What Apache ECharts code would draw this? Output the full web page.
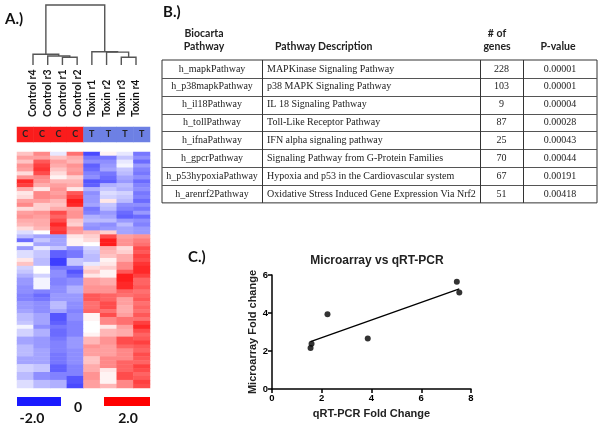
<!DOCTYPE html>
<html>
<head>
<meta charset="utf-8">
<script src="https://cdn.jsdelivr.net/npm/echarts@6/dist/echarts.min.js"></script>
<style>
html,body{margin:0;padding:0;background:#fff}
#main{width:600px;height:424px}
</style>
</head>
<body>
<div id="main"></div>
<script>
// ---- data ----
var samples = ['Control r4', 'Control r3', 'Control r1', 'Control r2', 'Toxin r1', 'Toxin r2', 'Toxin r3', 'Toxin r4'];
var groupTags = ['C', 'C', 'C', 'C', 'T', 'T', 'T', 'T'];
var groupIdx = [0, 0, 0, 0, 1, 1, 1, 1];
// hierarchical clustering merges: [child a, child b, height]; leaves 0-7, new nodes from 8
var merges = [[2, 3, 1.3], [1, 8, 1.5], [0, 9, 1.8], [6, 7, 1.3], [5, 11, 2.15], [4, 12, 2.2], [10, 13, 10]];

// log ratio per gene (rows) and sample (columns)
var expr = [
    [0.5, 1.0, -0.2, 1.2, -1.6, 0.1, -0.2, -1.2],
    [0.8, 0.8, 0.5, 0.7, -1.2, -1.2, -0.5, -1.0],
    [0.5, 1.4, 0.8, 0.6, -1.0, -1.0, -0.2, -1.3],
    [0.9, 1.6, 0.7, 0.9, -1.4, -0.9, -0.1, -0.9],
    [0.8, 1.7, 0.5, 0.8, -1.3, -0.8, -0.5, -1.1],
    [0.3, 1.5, 0.3, 0.9, -1.1, -1.2, -0.6, -1.2],
    [0.9, 1.0, 0.1, 0.4, -1.0, -1.3, -0.8, -1.0],
    [1.8, 0.9, 0.6, 0.6, -1.5, -1.4, -0.9, -1.3],
    [1.6, 0.7, 0.8, 0.7, -1.4, -0.7, -0.6, -1.1],
    [0.7, 0.2, 0.9, 0.2, -0.7, -0.5, -0.7, -1.0],
    [0.2, 1.0, 0.8, 1.4, -1.0, -0.3, -0.4, -1.2],
    [0.3, 1.0, 0.9, 1.6, -0.9, -0.4, -0.5, -1.1],
    [0.8, 0.8, 0.6, 1.9, -0.9, 0.2, -0.6, -1.3],
    [1.0, 0.4, 0.5, 1.8, -0.8, -0.5, -1.0, -1.0],
    [0.3, 0.4, 0.7, 0.8, -1.2, -0.6, -1.1, -1.2],
    [0.8, 0.9, 1.5, 0.9, -1.1, -0.9, -1.3, -0.9],
    [0.9, 0.8, 1.3, 0.9, -0.7, -0.8, -1.4, -1.3],
    [0.7, 0.7, 1.5, 0.5, -0.6, -0.6, -0.9, -1.0],
    [0.6, 0.7, 1.8, 0.4, -0.9, -1.0, -0.6, -1.1],
    [0.3, 0.6, 1.6, 0.9, -1.0, -0.9, -0.8, -0.9],
    [-0.3, 0.0, 1.7, 0.8, 0.6, 0.4, -0.8, -0.9],
    [-0.6, -0.8, -0.9, 0.2, 0.4, 1.5, 0.8, 0.9],
    [-1.3, -0.5, -0.8, 0.1, 0.3, 1.9, 0.9, 1.1],
    [-0.1, -0.8, -0.8, 0.1, 0.0, 1.9, 0.9, 1.2],
    [-0.9, -0.2, -0.5, -1.0, -0.4, 0.7, 0.3, 1.5],
    [-0.3, -0.5, -1.4, -1.2, -0.5, 0.6, 0.4, 1.4],
    [-0.3, -0.5, -1.4, -1.2, -0.6, 0.5, 0.7, 1.6],
    [0.2, -0.6, -1.7, -0.5, -0.6, 0.1, 0.7, 1.5],
    [0.5, -0.6, -1.7, -0.5, -0.2, 0.2, 1.0, 1.7],
    [-0.4, 0.0, -1.2, -1.2, 0.3, 0.4, 1.0, 1.8],
    [-0.5, 0.0, -1.0, -1.5, 0.5, 0.1, 1.4, 1.8],
    [-0.7, -0.4, -1.0, -1.3, 0.2, 0.1, 1.9, 1.6],
    [-0.9, -0.1, -1.1, -1.0, 0.8, 0.7, 1.9, 1.3],
    [-0.9, -0.1, -1.1, -1.0, 0.8, 0.7, 1.8, 1.3],
    [-1.0, -0.1, -1.0, -0.7, 0.9, 0.9, 1.8, 1.4],
    [-1.0, -1.1, -1.0, -0.7, 0.9, 0.9, 1.3, 1.2],
    [-1.1, -1.3, -0.9, -0.9, 1.4, 1.3, 1.2, 1.3],
    [-1.1, -1.2, -0.9, -0.9, 1.4, 1.3, 0.8, 1.4],
    [-0.9, -1.0, -0.6, -1.0, 1.2, 1.5, 0.8, 1.2],
    [-0.9, -1.0, -0.6, -1.0, 1.2, 1.5, 0.7, 1.3],
    [-0.8, -1.0, -0.8, -1.1, 1.3, 1.2, 0.7, 1.2],
    [-0.6, -0.8, -1.5, -1.0, 0.1, 1.5, 0.8, 1.4],
    [-0.6, -0.8, -1.5, -1.0, 0.1, 1.0, 1.2, 1.2],
    [-0.5, -0.8, -1.4, -1.1, 0.0, 1.0, 1.2, 1.6],
    [-0.1, -1.0, -1.2, -1.1, 0.0, 0.2, 0.8, 1.8],
    [-0.4, -0.7, -1.3, -1.1, 0.0, 0.6, 0.7, 1.5],
    [-0.4, -0.7, -1.3, -1.1, 0.1, 0.6, 0.7, 1.3],
    [-0.8, -0.9, -1.2, -0.9, 0.6, 0.9, 1.5, 1.4],
    [-0.8, -0.9, -1.1, -0.9, 0.6, 0.9, 1.5, 1.6],
    [-0.6, -0.9, -1.1, -0.9, 0.9, 0.8, 1.3, 1.4],
    [-0.6, -0.8, -1.1, -1.0, 0.8, 0.8, 1.0, 1.3],
    [-0.6, -0.8, -1.2, -1.0, 0.8, 0.8, 1.0, 1.5],
    [-0.8, -0.8, -1.2, -1.0, 0.5, 1.0, 1.0, 1.4],
    [-0.8, -0.8, -1.2, -1.0, 0.5, 1.0, 1.3, 1.3],
    [-0.4, -0.5, -1.4, -1.1, 0.7, 1.0, 1.3, 1.6],
    [-0.4, -0.5, -1.4, -1.1, 0.7, 0.2, 1.3, 1.5],
    [-0.6, -1.0, -1.1, -1.1, 0.9, 0.1, 1.5, 1.3],
    [-0.6, -1.0, -1.1, -1.5, 0.9, 0.1, 1.5, 1.4],
    [-0.3, -0.6, -0.7, -1.5, 0.8, 0.1, 1.0, 1.6],
    [-0.3, -0.6, -0.7, -1.6, 0.8, 0.6, 1.0, 1.5]
];
var scaleTicks = ['-2.0', '0', '2.0'];

// table (panel B)
var tableHeader = ['Biocarta\nPathway', 'Pathway Description', '# of\ngenes', 'P-value'];
var pathways = ['h_mapkPathway', 'h_p38mapkPathway', 'h_il18Pathway', 'h_tollPathway', 'h_ifnaPathway', 'h_gpcrPathway', 'h_p53hypoxiaPathway', 'h_arenrf2Pathway'];
var descriptions = ['MAPKinase Signaling Pathway', 'p38 MAPK Signaling Pathway', 'IL 18 Signaling Pathway', 'Toll-Like Receptor Pathway', 'IFN alpha signaling pathway', 'Signaling Pathway from G-Protein Families', 'Hypoxia and p53 in the Cardiovascular system', 'Oxidative Stress Induced Gene Expression Via Nrf2'];
var geneCounts = ['228', '103', '9', '87', '25', '70', '67', '51'];
var pValues = ['0.00001', '0.00001', '0.00004', '0.00028', '0.00043', '0.00044', '0.00191', '0.00418'];

// scatter (panel C)
var qpcrFold = [1.55, 1.59, 2.23, 3.85, 7.43, 7.53];
var arrayFold = [2.16, 2.38, 3.93, 2.66, 5.65, 5.08];
var fitLine = [[1.55, 2.49], [7.53, 5.27]];

// ---- layout ----
var chart = echarts.init(document.getElementById('main'));
var calibri = 'Lato, "Open Sans", sans-serif';
var arial = '"Liberation Sans", Arial, sans-serif';
var times = '"Liberation Serif", "Times New Roman", serif';

var nodeX = samples.map(function (s, i) { return i; });
var nodeH = samples.map(function () { return 0; });
var dendroSegs = merges.map(function (m) {
    var xa = nodeX[m[0]], xb = nodeX[m[1]];
    var seg = [xa, nodeH[m[0]], xb, nodeH[m[1]], m[2]];
    nodeX.push((xa + xb) / 2);
    nodeH.push(m[2]);
    return seg;
});

var heatData = [];
expr.forEach(function (row, r) {
    row.forEach(function (v, c) { heatData.push([c, r, v]); });
});
var rowIds = expr.map(function (r, i) { return 'g' + i; });

// table graphics
var tb = { cols: [162, 262, 480, 523, 597], top: 60, rowH: 17.86 };
var tblEls = [];
var tBottom = tb.top + tb.rowH * pathways.length;
tblEls.push({ type: 'rect', shape: { x: tb.cols[0], y: tb.top, width: tb.cols[4] - tb.cols[0], height: tBottom - tb.top }, style: { fill: 'none', stroke: '#333', lineWidth: 1 } });
for (var i = 1; i < pathways.length; i++) {
    var yy = Math.round(tb.top + tb.rowH * i) + 0.5;
    tblEls.push({ type: 'line', shape: { x1: tb.cols[0], y1: yy, x2: tb.cols[4], y2: yy }, style: { stroke: '#555', lineWidth: 1 } });
}
for (var j = 1; j < 4; j++) {
    tblEls.push({ type: 'line', shape: { x1: tb.cols[j] + 0.5, y1: tb.top, x2: tb.cols[j] + 0.5, y2: tBottom }, style: { stroke: '#333', lineWidth: 1 } });
}
var bodyStyle = { font: '10px ' + times, fill: '#222', textVerticalAlign: 'middle' };
pathways.forEach(function (p, k) {
    var cy = tb.top + tb.rowH * (k + 0.5);
    tblEls.push({ type: 'text', x: (tb.cols[0] + tb.cols[1]) / 2, y: cy, style: Object.assign({ text: p, textAlign: 'center' }, bodyStyle) });
    tblEls.push({ type: 'text', x: tb.cols[1] + 5, y: cy, style: Object.assign({ text: descriptions[k], textAlign: 'left' }, bodyStyle) });
    tblEls.push({ type: 'text', x: (tb.cols[2] + tb.cols[3]) / 2, y: cy, style: Object.assign({ text: geneCounts[k], textAlign: 'center' }, bodyStyle) });
    tblEls.push({ type: 'text', x: (tb.cols[3] + tb.cols[4]) / 2, y: cy, style: Object.assign({ text: pValues[k], textAlign: 'center' }, bodyStyle) });
});
var headStyle = { font: 'bold 10.5px ' + calibri, fill: '#222', lineHeight: 13, textVerticalAlign: 'bottom' };
var headX = [204, 275, 497, 558];
var headAlign = ['center', 'left', 'center', 'center'];
tableHeader.forEach(function (h, k) {
    tblEls.push({ type: 'text', x: headX[k], y: 53, style: Object.assign({ text: h, textAlign: headAlign[k] }, headStyle) });
});

var panelFont = 'bold 15px ' + calibri;
var scaleFont = 'bold 14px ' + calibri;

var option = {
    animation: false,
    title: {
        text: 'Microarray vs qRT-PCR',
        left: 372, top: 250, textAlign: 'center',
        textStyle: { fontFamily: arial, fontWeight: 'bold', fontSize: 12, color: '#222' }
    },
    grid: [
        { left: 33, top: 5, width: 103, height: 60 },
        { left: 33, top: 118, width: 103, height: 1 },
        { left: 17, top: 127, width: 133, height: 15 },
        { left: 17, top: 152, width: 133, height: 236 },
        { left: 272, top: 275, width: 199, height: 114 }
    ],
    xAxis: [
        { gridIndex: 0, type: 'value', min: 0, max: 7, show: false },
        {
            gridIndex: 1, type: 'value', min: 0, max: 7, interval: 1, position: 'top',
            axisLine: { show: false }, axisTick: { show: false }, splitLine: { show: false },
            axisLabel: {
                rotate: 90, margin: 1, fontFamily: calibri, fontWeight: 'bold', fontSize: 10.5, color: '#111',
                formatter: function (v) { return samples[v] || ''; }
            }
        },
        { gridIndex: 2, type: 'category', data: samples, show: false },
        { gridIndex: 3, type: 'category', data: samples, show: false },
        {
            gridIndex: 4, type: 'value', min: 0, max: 8, interval: 2,
            name: 'qRT-PCR Fold Change', nameLocation: 'middle', nameGap: 19,
            nameTextStyle: { fontFamily: arial, fontWeight: 'bold', fontSize: 11, color: '#222' },
            axisLine: { lineStyle: { color: '#000', width: 1.5 } },
            axisTick: { length: 4, lineStyle: { color: '#000', width: 1.5 } },
            axisLabel: { margin: 4, fontFamily: arial, fontWeight: 'bold', fontSize: 9.5, color: '#000' },
            splitLine: { show: false }
        }
    ],
    yAxis: [
        { gridIndex: 0, type: 'value', min: 0, max: 10, show: false },
        { gridIndex: 1, type: 'value', min: 0, max: 1, show: false },
        { gridIndex: 2, type: 'category', data: ['group'], show: false },
        { gridIndex: 3, type: 'category', data: rowIds, inverse: true, show: false },
        {
            gridIndex: 4, type: 'value', min: 0, max: 6, interval: 2,
            name: 'Microarray Fold change', nameLocation: 'middle', nameGap: 14,
            nameTextStyle: { fontFamily: arial, fontWeight: 'bold', fontSize: 11, color: '#222' },
            axisLine: { show: true, lineStyle: { color: '#000', width: 1.5 } },
            axisTick: { show: true, length: 4, lineStyle: { color: '#000', width: 1.5 } },
            axisLabel: { margin: 4, fontFamily: arial, fontWeight: 'bold', fontSize: 9.5, color: '#000' },
            splitLine: { show: false }
        }
    ],
    visualMap: [
        {
            type: 'continuous', show: false, seriesIndex: 2, dimension: 2, min: -2, max: 2,
            inRange: { color: ['#1c1cff', '#ffffff', '#ff1010'] }
        },
        {
            type: 'piecewise', show: false, seriesIndex: 1, dimension: 2,
            pieces: [{ value: 0, color: '#fa1c1c' }, { value: 1, color: '#6d80e4' }]
        }
    ],
    series: [
        {
            type: 'custom', xAxisIndex: 0, yAxisIndex: 0, data: dendroSegs, clip: false,
            renderItem: function (params, api) {
                var a = api.coord([api.value(0), api.value(1)]);
                var b = api.coord([api.value(0), api.value(4)]);
                var c = api.coord([api.value(2), api.value(4)]);
                var d = api.coord([api.value(2), api.value(3)]);
                return { type: 'polyline', shape: { points: [a, b, c, d] }, style: { fill: 'none', stroke: '#555', lineWidth: 1.4 } };
            }
        },
        {
            type: 'heatmap', xAxisIndex: 2, yAxisIndex: 2,
            data: groupIdx.map(function (g, i) { return [i, 0, g]; }),
            label: {
                show: true, fontFamily: calibri, fontWeight: 'bold', fontSize: 9, color: '#222',
                formatter: function (p) { return groupTags[p.value[0]]; }
            }
        },
        { type: 'heatmap', xAxisIndex: 3, yAxisIndex: 3, data: heatData },
        {
            type: 'scatter', xAxisIndex: 4, yAxisIndex: 4, symbolSize: 6,
            itemStyle: { color: '#000' },
            data: qpcrFold.map(function (x, i) { return [x, arrayFold[i]]; })
        },
        {
            type: 'line', xAxisIndex: 4, yAxisIndex: 4, data: fitLine, showSymbol: false,
            lineStyle: { color: '#000', width: 1.3 }
        }
    ],
    graphic: [
        { type: 'text', x: 5, y: 12, style: { text: 'A.)', font: panelFont, fill: '#111' } },
        { type: 'text', x: 163, y: 5, style: { text: 'B.)', font: panelFont, fill: '#111' } },
        { type: 'text', x: 188, y: 250, style: { text: 'C.)', font: panelFont, fill: '#111' } },
        // colour scale
        { type: 'rect', shape: { x: 17, y: 397, width: 44, height: 9 }, style: { fill: '#1a1aff' } },
        { type: 'rect', shape: { x: 104, y: 397, width: 46, height: 9 }, style: { fill: '#ff0000' } },
        { type: 'text', x: 32, y: 418, style: { text: scaleTicks[0], font: scaleFont, fill: '#111', textAlign: 'center', textVerticalAlign: 'middle' } },
        { type: 'text', x: 78, y: 407, style: { text: scaleTicks[1], font: scaleFont, fill: '#111', textAlign: 'center', textVerticalAlign: 'middle' } },
        { type: 'text', x: 128, y: 418, style: { text: scaleTicks[2], font: scaleFont, fill: '#111', textAlign: 'center', textVerticalAlign: 'middle' } }
    ].concat(tblEls)
};
chart.setOption(option);
</script>
</body>
</html>
